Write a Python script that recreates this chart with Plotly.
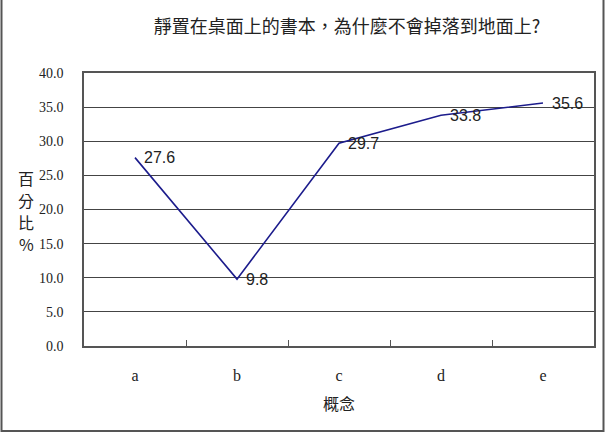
import plotly.graph_objects as go

categories = ["a", "b", "c", "d", "e"]
values = [27.6, 9.8, 29.7, 33.8, 35.6]
y_ticks = [0, 5, 10, 15, 20, 25, 30, 35, 40]
title = "靜置在桌面上的書本，為什麼不會掉落到地面上?"
x_title = "概念"
y_title_chars = ["百", "分", "比", "%"]

L, R, T, B = 84, 14, 73, 97
W, H = 608, 443
pw, ph = W - L - R, H - T - B

SERIF = "Liberation Serif"
CJK = "Noto Sans CJK TC"

fig = go.Figure()
fig.add_trace(go.Scatter(
    x=categories, y=values, mode="lines",
    line=dict(color="#1c1c8c", width=1.6),
    cliponaxis=False, showlegend=False,
))

def px2x(p):
    return (p - L) / pw

def px2y(p):
    return (H - B - p) / ph

annotations = []
for c, v in zip(categories, values):
    annotations.append(dict(x=c, y=v, xref="x", yref="y", text=f"{v:.1f}", showarrow=False,
                            xanchor="left", yanchor="middle", xshift=7,
                            font=dict(family="Liberation Sans", size=16, color="#222")))
for i, ch in enumerate(y_title_chars):
    annotations.append(dict(text=ch, xref="paper", yref="paper", x=px2x(26), y=px2y(178 + 22 * i),
                            xanchor="center", yanchor="middle", showarrow=False,
                            font=dict(family=CJK, size=16, color="#222")))

fig.update_layout(
    width=W, height=H,
    margin=dict(l=L, r=R, t=T, b=B),
    paper_bgcolor="white", plot_bgcolor="white",
    title=dict(text=title, x=347 / W, xanchor="center", y=1 - 27 / H, yanchor="middle",
               font=dict(family=CJK, size=18, color="#222")),
    xaxis=dict(
        type="category", range=[-0.5, 4.5], tickson="boundaries", ticks="inside", ticklen=6,
        tickcolor="#555", showgrid=False, showline=True, linecolor="#555", linewidth=1.5, mirror=True,
        ticklabelstandoff=14,
        tickfont=dict(family=SERIF, size=16, color="#222"),
        title=dict(text=x_title, font=dict(family=CJK, size=16, color="#222"), standoff=16),
    ),
    yaxis=dict(
        range=[0, 40], tickvals=y_ticks, ticktext=[f"{v:.1f}" for v in y_ticks],
        showgrid=True, gridcolor="#444", gridwidth=1, ticks="", showline=True, linecolor="#555",
        linewidth=1.5, mirror=True, zeroline=False, ticklabelstandoff=16,
        tickfont=dict(family=SERIF, size=14, color="#222"),
    ),
    shapes=[dict(type="rect", xref="paper", yref="paper",
                 x0=px2x(1.5), x1=px2x(603.5), y0=px2y(431), y1=px2y(-2),
                 line=dict(color="#555", width=2), layer="below")],
    annotations=annotations,
)

fig.write_html("out.html")
